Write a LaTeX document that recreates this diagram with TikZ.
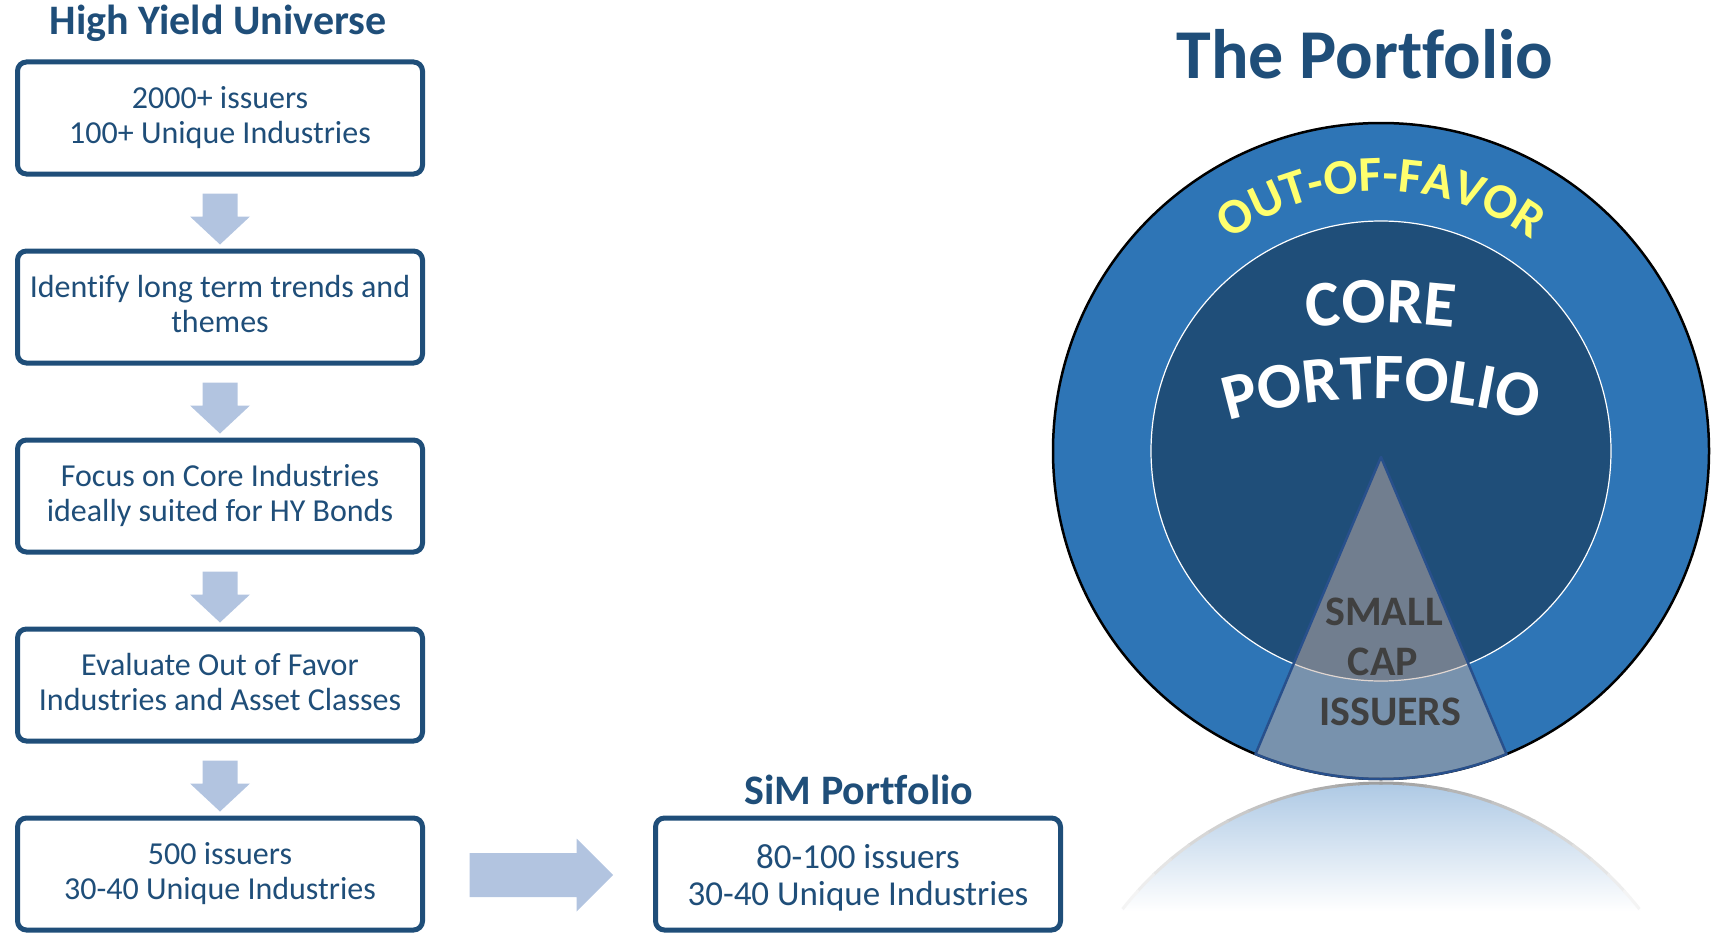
\documentclass[tikz,border=0pt]{standalone}
\usepackage{fontspec}
\setmainfont{Carlito}[Ligatures=NoCommon]
\usetikzlibrary{calc,decorations.text}
\definecolor{navy}{RGB}{31,78,121}
\definecolor{ring}{RGB}{46,117,182}
\definecolor{corefill}{RGB}{31,78,121}
\definecolor{arrowblue}{RGB}{178,196,224}
\definecolor{favor}{RGB}{255,255,110}
\definecolor{capgray}{RGB}{64,64,64}
\definecolor{trifill}{RGB}{195,175,165}
\definecolor{triedge}{RGB}{40,80,140}
\definecolor{refl}{RGB}{166,196,226}
\newcommand\bstrut{\rule[-6pt]{0pt}{26pt}}
\newcommand\sstrut{\rule[-2pt]{0pt}{33pt}}
\begin{document}
\begin{tikzpicture}[x=1pt,y=-1pt,
  box/.style={draw=navy, line width=5pt, rounded corners=9pt, fill=white,
    minimum width=405pt, minimum height=112pt, inner sep=0pt, align=center,
    text=navy, font=\fontsize{32}{35}\selectfont},
  title/.style={text=navy, font=\fontsize{42}{46}\selectfont\bfseries, inner sep=0pt, anchor=base},
  sctext/.style={text=capgray, font=\fontsize{42}{46}\selectfont\bfseries, inner sep=0pt, anchor=base},
  blockarrow/.style={fill=arrowblue, draw=none},
  pics/downarrow/.style={code={
    \fill[blockarrow] (-17.5,0) -- (17.5,0) -- (17.5,23) -- (30,23) -- (0,51) -- (-30,23) -- (-17.5,23) -- cycle;}},
  pics/rightarrow/.style={code={
    \fill[blockarrow] (0,-22) -- (107,-22) -- (107,-36.5) -- (143.7,0) -- (107,36.5) -- (107,22) -- (0,22) -- cycle;}},
]
\useasboundingbox (0,0) rectangle (1716,934);

% ---- left column ----
\node[title] (hyu) at (218,35) {High Yield Universe};
\node[box] (b1) at (220,118) {\bstrut 2000+ issuers\\\bstrut 100+ Unique Industries};
\node[box] (b2) at (220,307) {\bstrut Identify long term trends and\\\bstrut themes};
\node[box] (b3) at (220,496) {\bstrut Focus on Core Industries\\\bstrut ideally suited for HY Bonds};
\node[box] (b4) at (220,685) {\bstrut Evaluate Out of Favor\\\bstrut Industries and Asset Classes};
\node[box] (b5) at (220,874) {\bstrut 500 issuers\\\bstrut 30-40 Unique Industries};
\foreach \a in {b1,b2,b3,b4} \pic at ($(\a.south)+(0,17)$) {downarrow};

% ---- SiM portfolio ----
\node[title] (simt) at (859,804) {SiM Portfolio};
\node[box, font=\fontsize{35}{37}\selectfont] (sim) at (858,874) {\sstrut 80-100 issuers\\\sstrut 30-40 Unique Industries};
\pic at ($(b5.east)+(44.5,1)$) {rightarrow};

% ---- The Portfolio ----
\node[title, font=\fontsize{70}{76}\selectfont\bfseries] (tport) at (1365,78) {The Portfolio};

% reflection
\coordinate (RC) at (1381,1111);
\shade[top color=refl, bottom color=white] ($(RC)+(-142.5:328)$) arc[start angle=-142.5, end angle=-37.5, radius=328] -- cycle;
\foreach \i in {0,...,12} {
  \pgfmathtruncatemacro\p{75-5.5*\i}
  \pgfmathsetmacro\sa{-90-4*\i+0.3}
  \pgfmathsetmacro\ea{-94-4*\i}
  \pgfmathsetmacro\sb{-90+4*\i-0.3}
  \pgfmathsetmacro\eb{-86+4*\i}
  \draw[line width=3pt, color=gray!\p!white] ($(RC)+(\sa:328)$) arc[start angle=\sa, end angle=\ea, radius=328];
  \draw[line width=3pt, color=gray!\p!white] ($(RC)+(\sb:328)$) arc[start angle=\sb, end angle=\eb, radius=328];
}

% circle
\coordinate (C) at (1381,451);
\fill[ring] (C) circle[radius=328];
\draw[black, line width=2.5pt] (C) circle[radius=328];
\draw[white, line width=1.2pt, fill=corefill] (C) circle[radius=230];

% small cap triangle
\coordinate (apex) at (1381,457);
\fill[trifill, fill opacity=0.5] (apex) -- ($(C)+(112.5:328)$) arc[start angle=112.5, end angle=67.5, radius=328] -- cycle;
\draw[triedge, line width=2.5pt, line join=round] (apex) -- ($(C)+(112.5:328)$) arc[start angle=112.5, end angle=67.5, radius=328] -- cycle;

\node[sctext] (small) at (1384,625) {SMALL};
\node[sctext] (cap) at (1383,675) {CAP};
\node[sctext] (iss) at (1390,725) {ISSUERS};

% curved texts
\path[decorate, decoration={text along path, text align=center,
  text={|\fontsize{50}{50}\selectfont\bfseries\color{favor}|OUT-OF-FAVOR}}]
  ($(C)+(-140:260)$) arc[start angle=-140, end angle=-40, radius=260];
\coordinate (PC) at (1381,949);
\path[decorate, decoration={text along path, text align=center,
  text={|\fontsize{65}{65}\selectfont\bfseries\color{white}|CORE}}]
  ($(PC)+(-110:626)$) arc[start angle=-110, end angle=-70, radius=626];
\path[decorate, decoration={text along path, text align=center,
  text={|\fontsize{65}{65}\selectfont\bfseries\color{white}|PORTFOLIO}}]
  ($(PC)+(-120:550)$) arc[start angle=-120, end angle=-60, radius=550];
\end{tikzpicture}
\end{document}
